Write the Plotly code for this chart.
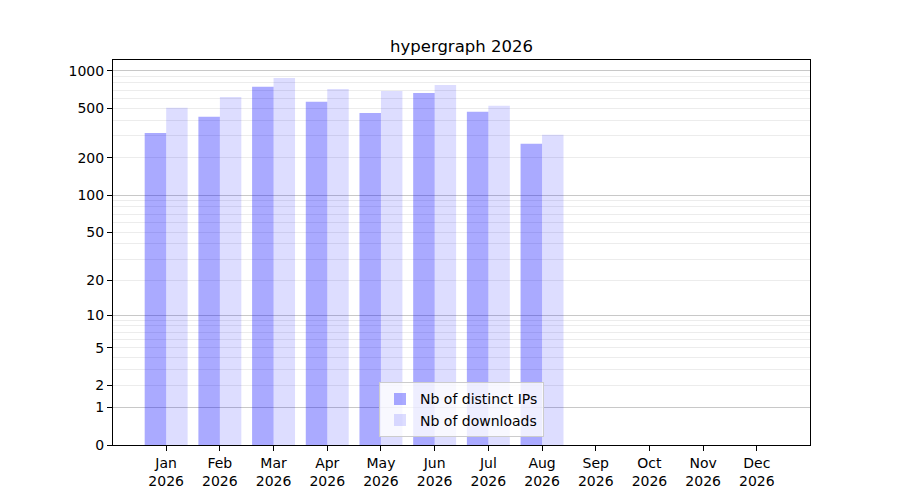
import numpy as np
import plotly.graph_objects as go

months = ["Jan", "Feb", "Mar", "Apr", "May", "Jun", "Jul", "Aug", "Sep", "Oct", "Nov", "Dec"]
year = "2026"
distinct_ips = [317, 427, 743, 563, 459, 664, 468, 259, 0, 0, 0, 0]
downloads = [504, 617, 877, 715, 689, 770, 523, 306, 0, 0, 0, 0]
y_tick_values = [0, 1, 2, 5, 10, 20, 50, 100, 200, 500, 1000]
y_major_grid = [1, 10, 100, 1000]
y_minor_grid = [2, 3, 4, 5, 6, 7, 8, 9, 20, 30, 40, 50, 60, 70, 80, 90,
                200, 300, 400, 500, 600, 700, 800, 900]


def tf(v):
    return np.log10(1 + np.asarray(v, dtype=float))


x = np.arange(len(months))
tick_text = [f"{m}<br>{year}" for m in months]
font = "DejaVu Sans"

fig = go.Figure()
fig.add_trace(go.Bar(x=x, y=tf(distinct_ips), name="Nb of distinct IPs",
                     marker=dict(color="rgba(0,0,255,0.333)", line=dict(width=0)),
                     customdata=distinct_ips, hovertemplate="%{customdata}<extra></extra>"))
fig.add_trace(go.Bar(x=x, y=tf(downloads), name="Nb of downloads",
                     marker=dict(color="rgba(0,0,255,0.133)", line=dict(width=0)),
                     customdata=downloads, hovertemplate="%{customdata}<extra></extra>"))
fig.add_trace(go.Scatter(x=[None], y=[None], yaxis="y2", showlegend=False, hoverinfo="skip"))

yr = [0, 3.087]
fig.update_layout(
    width=900, height=500,
    margin=dict(l=105, r=98, t=52, b=63),
    paper_bgcolor="white", plot_bgcolor="white",
    font=dict(family=font, size=14, color="black"),
    title=dict(text="hypergraph 2026", x=(105 + 697 / 2) / 900, xanchor="center", y=1 - 38 / 500,
               yanchor="middle", yref="container", font=dict(size=16.5, family=font, color="black")),
    barmode="group", bargap=0.2, bargroupgap=0,
    xaxis=dict(range=[-0.99, 11.99], tickmode="array", tickvals=x, ticktext=tick_text,
               showgrid=False, zeroline=False, showline=True, linecolor="black", linewidth=1.1,
               mirror=True, ticks="outside", ticklen=5, tickwidth=1, tickcolor="black",
               tickfont=dict(size=14)),
    yaxis=dict(range=yr, tickmode="array", tickvals=tf(y_tick_values),
               ticktext=[str(v) for v in y_tick_values], showgrid=False, zeroline=False,
               showline=True, linecolor="black", linewidth=1.1, mirror=True,
               ticks="outside", ticklen=5, tickwidth=1, tickcolor="black",
               tickfont=dict(size=14),
               minor=dict(tickmode="array", tickvals=tf(y_minor_grid), showgrid=True,
                          gridcolor="#ececec", gridwidth=1, ticks="")),
    yaxis2=dict(range=yr, overlaying="y", tickmode="array", tickvals=tf(y_major_grid),
                showticklabels=False, showgrid=True, gridcolor="#c8c8c8", gridwidth=1,
                zeroline=False, showline=False, ticks=""),
    legend=dict(x=0.5, xanchor="center", y=0.02, yanchor="bottom",
                bgcolor="rgba(255,255,255,0.8)", bordercolor="#cccccc", borderwidth=1,
                font=dict(size=14, family=font), traceorder="normal"),
)

fig.write_html("out.html")
